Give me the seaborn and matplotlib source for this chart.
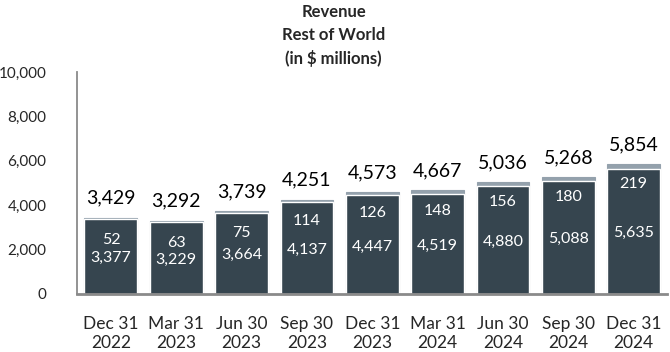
import pandas as pd
import numpy as np
import matplotlib.pyplot as plt
import seaborn as sns

# Datos del grafico
periodos = ["Dec 31\n2022", "Mar 31\n2023", "Jun 30\n2023", "Sep 30\n2023", "Dec 31\n2023",
            "Mar 31\n2024", "Jun 30\n2024", "Sep 30\n2024", "Dec 31\n2024"]
base = [3377, 3229, 3664, 4137, 4447, 4519, 4880, 5088, 5635]
extra = [52, 63, 75, 114, 126, 148, 156, 180, 219]
totales = [3429, 3292, 3739, 4251, 4573, 4667, 5036, 5268, 5854]

df = pd.DataFrame({"periodo": periodos, "base": base, "extra": extra, "total": totales})

sns.set_style("white")
plt.rcParams['font.family'] = ['Lato', 'DejaVu Sans']

fig = plt.figure(figsize=(6.7, 3.52), dpi=100)
ax = fig.add_axes([0.1149, 0.1648, 0.8806, 0.6307])

oscuro = "#36454f"
claro = "#94a1ac"

# Barra total (segmento claro arriba) y barra base encima
sns.barplot(data=df, x="periodo", y="total", color=claro, width=0.81, saturation=1,
            edgecolor=claro, linewidth=0.8, ax=ax)
sns.barplot(data=df, x="periodo", y="base", color=oscuro, width=0.81, saturation=1, ax=ax)

for i, fila in df.iterrows():
    ax.text(i, fila["total"] + 880, f"{fila['total']:,}", ha="center", va="center",
            fontsize=14, color="black")
    ax.text(i, fila["base"] / 2 - 80, f"{fila['base']:,}", ha="center", va="center",
            fontsize=11.5, color="white")
    # etiqueta del segmento superior, dentro de la barra oscura
    ax.text(i, fila["base"] - (1385 - 0.117 * fila["base"]) + 60, f"{fila['extra']:,}",
            ha="center", va="center", fontsize=11.5, color="white")

ax.set_ylim(0, 10000)
ax.set_xlim(-0.52, 8.51)
ax.set_yticks(np.arange(0, 10001, 2000))
ax.set_yticklabels([f"{v:,}" for v in range(0, 10001, 2000)], fontsize=11)
ax.tick_params(axis="x", labelsize=12.5, pad=16, length=0)
ax.tick_params(axis="y", length=0, pad=22)
ax.set_xlabel("")
ax.set_ylabel("")

sns.despine(ax=ax, top=True, right=True)
ax.spines["left"].set_color("#8a8a8a")
ax.spines["left"].set_linewidth(1.3)
ax.spines["bottom"].set_color("#8a8a8a")
ax.spines["bottom"].set_linewidth(2)

fig.text(0.498, 0.988, "Revenue\nRest of World\n(in $ millions)", ha="center", va="top",
         fontsize=12, fontweight="bold", linespacing=1.5)

fig.savefig("out.png", dpi=100)
